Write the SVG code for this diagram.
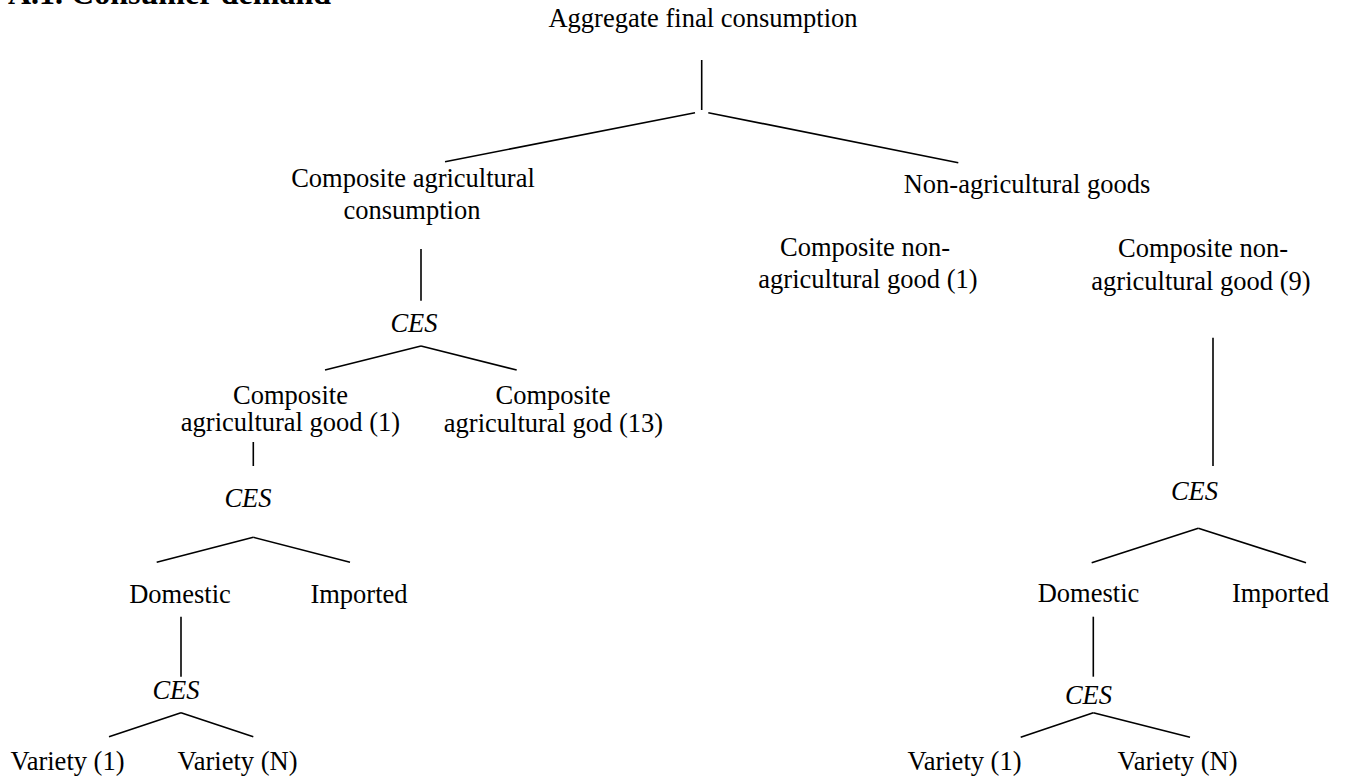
<svg xmlns="http://www.w3.org/2000/svg" width="1345" height="780" viewBox="0 0 1345 780">
<style>
text{font-family:"Liberation Serif","Times New Roman",serif;font-size:26.5px;fill:#000;text-anchor:middle}
.t{font-weight:bold;font-size:32px;text-anchor:start}
.i{font-style:italic}
.c line{stroke:#000;stroke-width:1.6;stroke-linecap:butt}
</style>
<rect width="1345" height="780" fill="#fff"/>
<g id="title"><text class="t" x="8" y="4">A.1. Consumer demand</text></g>
<g id="n-aggregate"><text x="703" y="27">Aggregate final consumption</text></g>
<g id="n-comp-agri"><text x="413" y="187">Composite agricultural</text><text x="412" y="218.5">consumption</text></g>
<g id="n-nonagri"><text x="1027" y="193">Non-agricultural goods</text></g>
<g id="n-comp-nonagri-1"><text x="865" y="256">Composite non-</text><text x="868" y="288">agricultural good (1)</text></g>
<g id="n-comp-nonagri-9"><text x="1203" y="257">Composite non-</text><text x="1201" y="290">agricultural good (9)</text></g>
<g id="n-ces-a"><text class="i" x="414" y="331.5">CES</text></g>
<g id="n-comp-agri-1"><text x="290.5" y="403.5">Composite</text><text x="290.5" y="431">agricultural good (1)</text></g>
<g id="n-comp-agri-13"><text x="553" y="404">Composite</text><text x="553.5" y="431.5">agricultural god (13)</text></g>
<g id="n-ces-b"><text class="i" x="248" y="507">CES</text></g>
<g id="n-domestic-l"><text x="180" y="602.5">Domestic</text></g>
<g id="n-imported-l"><text x="359" y="602.5">Imported</text></g>
<g id="n-ces-c"><text class="i" x="176" y="698.5">CES</text></g>
<g id="n-variety1-l"><text x="67.5" y="770">Variety (1)</text></g>
<g id="n-varietyN-l"><text x="237.5" y="770">Variety (N)</text></g>
<g id="n-ces-d"><text class="i" x="1194.5" y="499.5">CES</text></g>
<g id="n-domestic-r"><text x="1088.5" y="602">Domestic</text></g>
<g id="n-imported-r"><text x="1280.5" y="602">Imported</text></g>
<g id="n-ces-e"><text class="i" x="1088.5" y="704">CES</text></g>
<g id="n-variety1-r"><text x="964.5" y="770">Variety (1)</text></g>
<g id="n-varietyN-r"><text x="1177.5" y="770">Variety (N)</text></g>
<g id="connectors" class="c">
<line x1="701.7" y1="60" x2="701.7" y2="110"/>
<line x1="695" y1="112.7" x2="445" y2="161.7"/>
<line x1="708.3" y1="112.7" x2="958.3" y2="162.7"/>
<line x1="421" y1="249" x2="421" y2="300.7"/>
<line x1="421" y1="346" x2="325" y2="370"/>
<line x1="421" y1="346" x2="516.7" y2="370"/>
<line x1="253.3" y1="442" x2="253.3" y2="466"/>
<line x1="253.3" y1="537.3" x2="156.7" y2="562.3"/>
<line x1="253.3" y1="537.3" x2="350" y2="562.3"/>
<line x1="181" y1="616.7" x2="181" y2="676.7"/>
<line x1="181" y1="712.7" x2="109" y2="736.7"/>
<line x1="181" y1="712.7" x2="253.3" y2="736.7"/>
<line x1="1213" y1="337.7" x2="1213" y2="466"/>
<line x1="1198.3" y1="528.3" x2="1091.7" y2="562.7"/>
<line x1="1198.3" y1="528.3" x2="1306" y2="562.7"/>
<line x1="1093.3" y1="616.7" x2="1093.3" y2="676.7"/>
<line x1="1093.3" y1="712.7" x2="1020.7" y2="737.3"/>
<line x1="1093.3" y1="712.7" x2="1190" y2="737.3"/>
</g>
</svg>
